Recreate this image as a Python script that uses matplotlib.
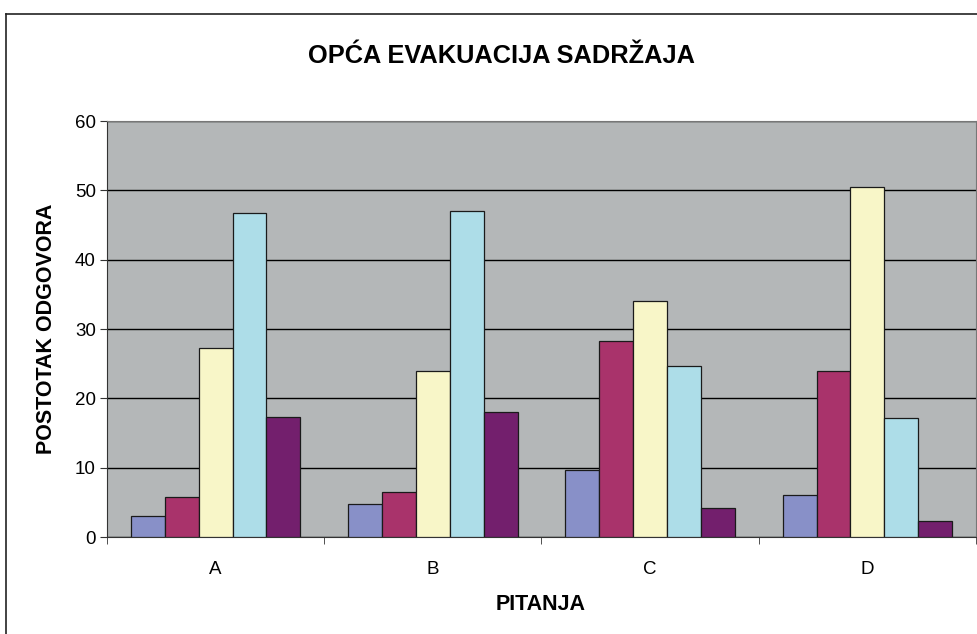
import matplotlib
matplotlib.use("Agg")
import matplotlib.pyplot as plt
import numpy as np
from matplotlib.lines import Line2D

plt.rcParams['font.family'] = ['Liberation Sans', 'DejaVu Sans']

categories = ["A", "B", "C", "D"]
series1 = [3.0, 4.7, 9.6, 6.1]
series2 = [5.8, 6.5, 28.2, 24.0]
series3 = [27.2, 24.0, 34.0, 50.5]
series4 = [46.7, 47.0, 24.7, 17.2]
series5 = [17.3, 18.1, 4.2, 2.3]
yticks = [0, 10, 20, 30, 40, 50, 60]

all_series = [series1, series2, series3, series4, series5]
colors = ["#8890C8", "#A9336B", "#F8F6C8", "#ADDDE8", "#731F6D"]

W, H = 978, 634
fig = plt.figure(figsize=(W/100, H/100), dpi=100)
ax = fig.add_axes([107/W, (H-537)/H, (976-107)/W, (537-121)/H])
ax.set_facecolor("#B4B7B8")

n = len(all_series)
bw = 0.156
x = np.arange(len(categories)) + 0.5
for i, (s, c) in enumerate(zip(all_series, colors)):
    offs = (i - (n - 1) / 2) * bw
    ax.bar(x + offs, s, width=bw, color=c, edgecolor="#1a1a1a", linewidth=0.9, zorder=3)

ax.set_xlim(0, len(categories))
ax.set_ylim(0, 60)
ax.set_yticks(yticks)
ax.set_yticklabels([str(v) for v in yticks], fontsize=13.5)
ax.set_xticks(x)
ax.set_xticklabels(categories, fontsize=13.5)
ax.set_xticks(np.arange(len(categories) + 1), minor=True)
ax.tick_params(axis='x', which='major', length=0, pad=17)
ax.tick_params(axis='x', which='minor', length=5, direction='out', color="#333333")
ax.tick_params(axis='y', length=5, direction='out', color="#333333", pad=3)
ax.yaxis.grid(True, color="black", linewidth=1.0, zorder=1)
ax.set_axisbelow(True)
for side in ['top', 'right']:
    ax.spines[side].set_color("#777777")
ax.spines['left'].set_color("#333333")
ax.spines['bottom'].set_color("#333333")

ax.set_ylabel("POSTOTAK ODGOVORA", fontsize=15.5, fontweight='bold')
ax.yaxis.set_label_coords((47-107)/869, 0.5)
ax.yaxis.label.set_va('center')
ax.set_xlabel("PITANJA", fontsize=15.5, fontweight='bold')
ax.xaxis.set_label_coords((541-107)/869, (537-605)/416)
ax.xaxis.label.set_va('center')
fig.text(501/W, 1 - 56/H, "OPĆA EVAKUACIJA SADRŽAJA", fontsize=18.3, fontweight='bold',
         ha='center', va='center')

# outer chart border
fig.add_artist(Line2D([5.5/W, 5.5/W], [0, 1 - 14/H], transform=fig.transFigure, color="#222222", linewidth=1.2))
fig.add_artist(Line2D([5.5/W, 1], [1 - 14/H, 1 - 14/H], transform=fig.transFigure, color="#222222", linewidth=1.2))

fig.savefig("out.png", dpi=100)
